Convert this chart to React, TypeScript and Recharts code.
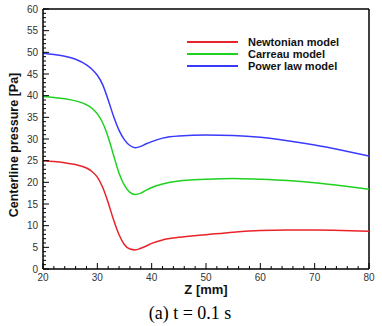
import React from 'react';
import { LineChart, Line, XAxis, YAxis, ReferenceLine } from 'recharts';

const zValues = [20, 22, 24, 26, 28, 29, 30, 31, 32, 33, 34, 35, 36, 37, 38, 39, 40, 42, 45, 50, 55, 60, 65, 70, 75, 80];
const newtonian = [25.0, 24.8, 24.5, 24.1, 23.3, 22.5, 21.2, 18.8, 15.3, 11.3, 7.9, 5.6, 4.6, 4.4, 4.8, 5.3, 5.9, 6.7, 7.3, 7.9, 8.5, 8.9, 9.0, 9.0, 8.9, 8.7];
const carreau = [39.8, 39.6, 39.3, 38.8, 37.9, 37.1, 35.8, 33.7, 30.4, 26.2, 22.1, 19.3, 17.7, 17.2, 17.5, 18.2, 18.8, 19.6, 20.3, 20.7, 20.9, 20.7, 20.4, 19.9, 19.2, 18.4];
const powerLaw = [49.8, 49.5, 49.1, 48.4, 47.1, 46.1, 44.7, 42.5, 39.0, 35.2, 32.0, 29.8, 28.5, 28.0, 28.3, 28.9, 29.4, 30.2, 30.7, 30.9, 30.8, 30.4, 29.6, 28.6, 27.4, 26.1];

const xTicks = [20, 22, 24, 26, 28, 30, 32, 34, 36, 38, 40, 42, 44, 46, 48, 50, 52, 54, 56, 58, 60, 62, 64, 66, 68, 70, 72, 74, 76, 78, 80];
const yTicks = Array.from({ length: 61 }, (_, i) => i);

const seriesInfo = [
  { key: 'newtonian', name: 'Newtonian model', color: '#e8232a' },
  { key: 'carreau', name: 'Carreau model', color: '#1fd21f' },
  { key: 'powerLaw', name: 'Power law model', color: '#3a3aff' },
];

const data = zValues.map((z, i) => ({ z, newtonian: newtonian[i], carreau: carreau[i], powerLaw: powerLaw[i] }));

const XTick = (props: any) => {
  const { x, y, payload } = props;
  const v = payload.value;
  const major = v % 10 === 0;
  return (
    <g>
      <line x1={x} y1={y} x2={x} y2={y - (major ? 6 : 3)} stroke="#000" strokeWidth={1} />
      {major && (
        <text x={x} y={y + 12} textAnchor="middle" fontSize={10} fill="#333" fontFamily="Liberation Sans, Arial, sans-serif">
          {v}
        </text>
      )}
    </g>
  );
};

const YTick = (props: any) => {
  const { x, y, payload } = props;
  const v = payload.value;
  const major = v % 5 === 0;
  return (
    <g>
      <line x1={x} y1={y} x2={x + (major ? 6 : 3)} y2={y} stroke="#000" strokeWidth={1} />
      {major && (
        <text x={x - 5} y={y + 3.5} textAnchor="end" fontSize={10} fill="#333" fontFamily="Liberation Sans, Arial, sans-serif">
          {v}
        </text>
      )}
    </g>
  );
};

export default function App() {
  return (
    <div style={{ position: 'absolute', left: 0, top: 0, width: 382, height: 326, background: '#fff' }}>
      <LineChart width={382} height={326} data={data} margin={{ top: 9, right: 13, bottom: 37, left: 0 }}>
        <XAxis
          dataKey="z"
          type="number"
          domain={[20, 80]}
          ticks={xTicks}
          interval={0}
          tick={<XTick />}
          tickLine={false}
          tickSize={0}
          tickMargin={0}
          height={20}
          axisLine={{ stroke: '#000', strokeWidth: 1.5 }}
          allowDataOverflow
        />
        <YAxis
          type="number"
          domain={[0, 60]}
          ticks={yTicks}
          interval={0}
          tick={<YTick />}
          tickLine={false}
          tickSize={0}
          tickMargin={0}
          width={43}
          axisLine={{ stroke: '#000', strokeWidth: 1.5 }}
          allowDataOverflow
        />
        <ReferenceLine y={60} stroke="#000" strokeWidth={1.5} />
        <ReferenceLine x={80} stroke="#000" strokeWidth={1.5} />
        {seriesInfo.map((s) => (
          <Line
            key={s.key}
            dataKey={s.key}
            name={s.name}
            type="monotone"
            stroke={s.color}
            strokeWidth={1.5}
            dot={false}
            isAnimationActive={false}
          />
        ))}
      </LineChart>
      <div style={{ position: 'absolute', left: 187, top: 36, fontFamily: 'Liberation Sans, Arial, sans-serif', fontWeight: 'bold', fontSize: 11, color: '#111' }}>
        {seriesInfo.map((s) => (
          <div key={s.key} style={{ display: 'flex', alignItems: 'center', height: 12.2 }}>
            <div style={{ width: 51, height: 2, background: s.color, marginRight: 10 }} />
            <span>{s.name}</span>
          </div>
        ))}
      </div>
      <div style={{ position: 'absolute', left: 206, top: 289, transform: 'translate(-50%, -50%)', whiteSpace: 'nowrap', fontFamily: 'Liberation Sans, Arial, sans-serif', fontWeight: 'bold', fontSize: 13, color: '#111' }}>
        Z [mm]
      </div>
      <div style={{ position: 'absolute', left: 14, top: 145, transform: 'translate(-50%, -50%) rotate(-90deg)', whiteSpace: 'nowrap', fontFamily: 'Liberation Sans, Arial, sans-serif', fontWeight: 'bold', fontSize: 12.5, color: '#111' }}>
        Centerline pressure [Pa]
      </div>
      <div style={{ position: 'absolute', left: 190, top: 313, transform: 'translate(-50%, -50%)', whiteSpace: 'nowrap', fontFamily: 'Liberation Serif, Times New Roman, serif', fontSize: 18, color: '#000' }}>
        (a) t = 0.1 s
      </div>
    </div>
  );
}
